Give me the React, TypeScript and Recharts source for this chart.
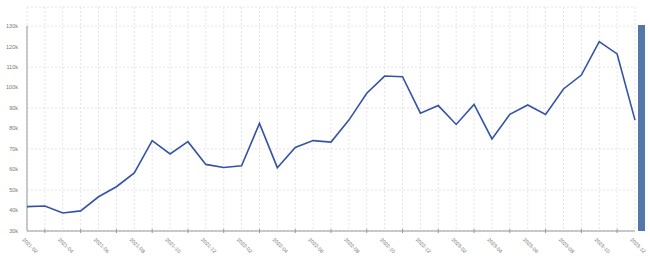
import React from "react";
import { LineChart, Line, XAxis, YAxis, CartesianGrid, ReferenceLine } from "recharts";

const months: string[] = [
  "2021-02","2021-03","2021-04","2021-05","2021-06","2021-07","2021-08","2021-09","2021-10","2021-11","2021-12",
  "2022-01","2022-02","2022-03","2022-04","2022-05","2022-06","2022-07","2022-08","2022-09","2022-10","2022-11","2022-12",
  "2023-01","2023-02","2023-03","2023-04","2023-05","2023-06","2023-07","2023-08","2023-09","2023-10","2023-11","2023-12",
];

const values: number[] = [
  41900, 42200, 38800, 39800, 46700, 51600, 58300, 74100, 67600, 73600, 62500,
  61000, 61800, 82500, 60900, 70800, 74100, 73400, 84100, 97200, 105600, 105300, 87500,
  91200, 82000, 91800, 74900, 86900, 91500, 86900, 99300, 106100, 122400, 116400, 84100,
];

const yTicks: number[] = [30000, 40000, 50000, 60000, 70000, 80000, 90000, 100000, 110000, 120000, 130000];

const data = months.map((m, i) => ({ month: m, value: values[i] }));

const XTick = (props: any) => {
  const { x, y, payload, index } = props;
  const i = index ?? months.indexOf(payload.value);
  if (i % 2 === 1) {
    return <line x1={x} x2={x} y1={y - 2} y2={y + 2} stroke="#999" strokeWidth={1} />;
  }
  const tx = x - 5;
  const ty = y + 9;
  return (
    <text
      x={tx}
      y={ty}
      transform={`rotate(45, ${tx}, ${ty})`}
      textAnchor="start"
      fontSize={5.2}
      fill="#777"
      fontFamily="Liberation Sans, Arial, sans-serif"
    >
      {payload.value}
    </text>
  );
};

export default function App() {
  return (
    <div style={{ position: "absolute", left: 0, top: 0, width: 650, height: 260, background: "#fff" }}>
      <LineChart
        width={650}
        height={260}
        data={data}
        margin={{ top: 7, right: 15, bottom: 0, left: 0 }}
      >
        <CartesianGrid stroke="#e4e4e4" strokeDasharray="2 2" />
        <XAxis
          dataKey="month"
          interval={0}
          height={29}
          tick={<XTick />}
          tickLine={false}
          tickSize={0}
          tickMargin={0}
          axisLine={{ stroke: "#999" }}
        />
        <YAxis
          width={27}
          domain={[30000, 139300]}
          ticks={yTicks}
          tickFormatter={(v: number) => `${v / 1000}k`}
          tick={{ fontSize: 5.5, fill: "#777", fontFamily: "Liberation Sans, Arial, sans-serif" }}
          tickLine={false}
          tickMargin={3}
          axisLine={false}
          allowDataOverflow
        />
        <ReferenceLine
          segment={[
            { x: months[0], y: yTicks[0] },
            { x: months[0], y: yTicks[yTicks.length - 1] },
          ]}
          stroke="#999"
          ifOverflow="visible"
        />
        <Line
          type="linear"
          dataKey="value"
          stroke="#3553a6"
          strokeWidth={1.6}
          dot={false}
          isAnimationActive={false}
        />
      </LineChart>
      <div
        style={{
          position: "absolute",
          left: 638,
          top: 25,
          width: 7,
          height: 206,
          background: "#5277a8",
        }}
      />
    </div>
  );
}
